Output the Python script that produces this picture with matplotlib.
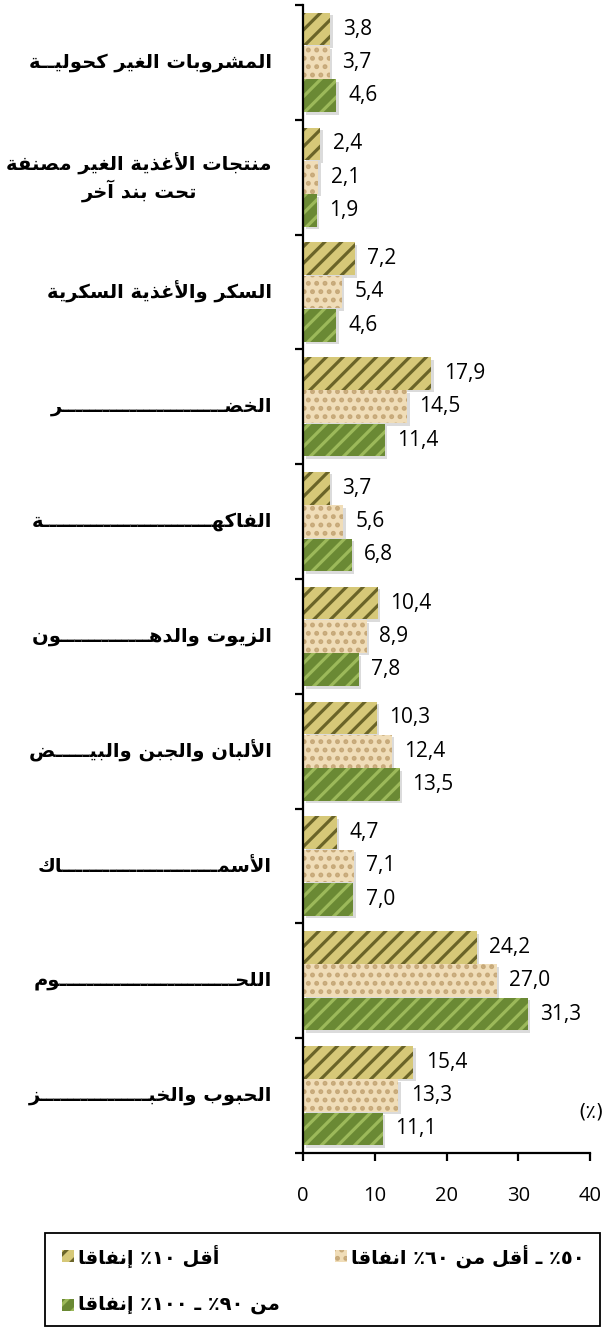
import re
import matplotlib
matplotlib.use("Agg")
import matplotlib.pyplot as plt
from matplotlib import transforms
from matplotlib.patches import Rectangle

# ---------------- data ----------------
categories = [
    "المشروبات الغير كحوليــة",
    "منتجات الأغذية الغير مصنفة\nتحت بند آخر",
    "السكر والأغذية السكرية",
    "الخضــــــــــــــــــــــــر",
    "الفاكهـــــــــــــــــــــــــة",
    "الزيوت والدهـــــــــــــون",
    "الألبان والجبن والبيـــــض",
    "الأسمـــــــــــــــــــــــاك",
    "اللحــــــــــــــــــــــــــوم",
    "الحبوب والخبــــــــــــــــز",
]
series_low = [3.8, 2.4, 7.2, 17.9, 3.7, 10.4, 10.3, 4.7, 24.2, 15.4]
series_mid = [3.7, 2.1, 5.4, 14.5, 5.6, 8.9, 12.4, 7.1, 27.0, 13.3]
series_high = [4.6, 1.9, 4.6, 11.4, 6.8, 7.8, 13.5, 7.0, 31.3, 11.1]
series_names = ["أقل ١٠٪ إنفاقا", "٥٠٪ ـ أقل من ٦٠٪ انفاقا", "من ٩٠٪ ـ ١٠٠٪ إنفاقا"]
xticks = [0, 10, 20, 30, 40]
unit_label = "(٪)"

# ---------------- minimal Arabic shaping (presentation forms) ----------------
DUAL = {}
for ch, base in [("\u0626", 0xFE89), ("\u0628", 0xFE8F), ("\u062A", 0xFE95), ("\u062B", 0xFE99),
                 ("\u062C", 0xFE9D), ("\u062D", 0xFEA1), ("\u062E", 0xFEA5), ("\u0633", 0xFEB1),
                 ("\u0634", 0xFEB5), ("\u0635", 0xFEB9), ("\u0636", 0xFEBD), ("\u0637", 0xFEC1),
                 ("\u0638", 0xFEC5), ("\u0639", 0xFEC9), ("\u063A", 0xFECD), ("\u0641", 0xFED1),
                 ("\u0642", 0xFED5), ("\u0643", 0xFED9), ("\u0644", 0xFEDD), ("\u0645", 0xFEE1),
                 ("\u0646", 0xFEE5), ("\u0647", 0xFEE9), ("\u064A", 0xFEF1)]:
    DUAL[ch] = base
RIGHT = {"\u0622": 0xFE81, "\u0623": 0xFE83, "\u0624": 0xFE85, "\u0625": 0xFE87, "\u0627": 0xFE8D,
         "\u0629": 0xFE93, "\u062F": 0xFEA9, "\u0630": 0xFEAB, "\u0631": 0xFEAD, "\u0632": 0xFEAF,
         "\u0648": 0xFEED, "\u0649": 0xFEEF}
LAMALEF = {"\u0622": 0xFEF5, "\u0623": 0xFEF7, "\u0625": 0xFEF9, "\u0627": 0xFEFB}
TATWEEL = "\u0640"


def _shape(s):
    toks = []
    i = 0
    while i < len(s):
        c = s[i]
        if c == "\u0644" and i + 1 < len(s) and s[i + 1] in LAMALEF:
            toks.append(("LA", s[i + 1]))
            i += 2
        else:
            toks.append(("C", c))
            i += 1

    def joins_next(t):
        return t[0] == "C" and (t[1] in DUAL or t[1] == TATWEEL)

    def joins_prev(t):
        return t[0] == "LA" or t[1] in DUAL or t[1] in RIGHT or t[1] == TATWEEL

    out = []
    for k, t in enumerate(toks):
        prev = toks[k - 1] if k > 0 else None
        nxt = toks[k + 1] if k + 1 < len(toks) else None
        p = prev is not None and joins_next(prev) and joins_prev(t)
        if t[0] == "LA":
            out.append(chr(LAMALEF[t[1]] + (1 if p else 0)))
            continue
        c = t[1]
        if c in DUAL:
            n = nxt is not None and joins_prev(nxt)
            off = 3 if (p and n) else 1 if p else 2 if n else 0
            out.append(chr(DUAL[c] + off))
        elif c in RIGHT:
            out.append(chr(RIGHT[c] + (1 if p else 0)))
        else:
            out.append(c)
    return "".join(out)


def ar(s):
    lines = []
    for line in s.split("\n"):
        v = _shape(line)[::-1]
        v = re.sub(r"[0-9\u0660-\u0669]+", lambda m: m.group(0)[::-1], v)
        v = v.translate(str.maketrans("()", ")("))
        lines.append(v)
    return "\n".join(lines)


# ---------------- figure ----------------
plt.rcParams["hatch.linewidth"] = 2.3
W, H = 606, 1328
fig = plt.figure(figsize=(W / 100, H / 100), dpi=100)
ax_left, ax_right, ax_top, ax_bottom = 303, 590, 5, 1153
ax = fig.add_axes([ax_left / W, 1 - ax_bottom / H, (ax_right - ax_left) / W, (ax_bottom - ax_top) / H])

n = len(categories)
ypos = [n - 1 - i for i in range(n)]
bar_h = 0.285
styles = [
    dict(face="#d6c878", hatch="//", hcol="#6a6428", off=0.29),
    dict(face="#f0ddb8", hatch="..", hcol="#c6a878", off=0.0),
    dict(face="#6a8934", hatch="//", hcol="#9cb95a", off=-0.29),
]
all_series = [series_low, series_mid, series_high]
shadow_off = transforms.ScaledTranslation(2.5 / 100, -2.5 / 100, fig.dpi_scale_trans)

for vals, st in zip(all_series, styles):
    yy = [y + st["off"] for y in ypos]
    sh = ax.barh(yy, vals, height=bar_h, color="#b8b8b8", linewidth=0, alpha=0.5, zorder=1)
    for p in sh:
        p.set_transform(ax.transData + shadow_off)
    ax.barh(yy, vals, height=bar_h, facecolor=st["face"], edgecolor=st["hcol"], hatch=st["hatch"],
            linewidth=0, zorder=2)
    for y, v in zip(yy, vals):
        ax.annotate(f"{v:.1f}".replace(".", ","), (v, y), xytext=(9, 0), textcoords="offset points",
                    ha="left", va="center", fontsize=15, family="Open Sans", color="#000000")

ax.set_xlim(0, 40)
ax.set_ylim(-0.5, n - 0.5)
ax.set_xticks(xticks)
ax.set_xticklabels([str(t) for t in xticks], fontsize=14.5, family="Open Sans")
ax.set_yticks([k - 0.5 for k in range(n + 1)])
ax.set_yticklabels([])
for s in ["top", "right"]:
    ax.spines[s].set_visible(False)
for s in ["left", "bottom"]:
    ax.spines[s].set_linewidth(1.6)
ax.tick_params(axis="y", direction="out", length=6, width=1.6)
ax.tick_params(axis="x", direction="out", length=6, width=1.6, pad=18)
ax.set_facecolor("none")

# category labels
tr = transforms.blended_transform_factory(fig.transFigure, ax.transData)
for y, lab in zip(ypos, categories):
    fig.text(272 / W, y, ar(lab), transform=tr, ha="right", va="center", multialignment="center",
             fontsize=14, fontweight="bold", family="DejaVu Sans", linespacing=1.25)

# unit label
fig.text(578 / W, 1 - 1112 / H, ar(unit_label), ha="left", va="center", fontsize=14, family="DejaVu Sans")

# legend box
fig.patches.append(Rectangle((45 / W, 1 - 1326 / H), (600 - 45) / W, (1326 - 1233) / H,
                             transform=fig.transFigure, facecolor="white", edgecolor="black", linewidth=1.3))
leg_pos = [(62, 1256), (335, 1256), (62, 1305)]
for (lx, ly), name, st in zip(leg_pos, series_names, styles):
    fig.patches.append(Rectangle((lx / W, 1 - (ly + 6) / H), 12 / W, 12 / H, transform=fig.transFigure,
                                 facecolor=st["face"], edgecolor=st["hcol"], hatch=st["hatch"], linewidth=0))
    fig.text((lx + 16) / W, 1 - ly / H, ar(name), ha="left", va="center", fontsize=14,
             fontweight="bold", family="DejaVu Sans")

fig.savefig("out.png", dpi=100)
